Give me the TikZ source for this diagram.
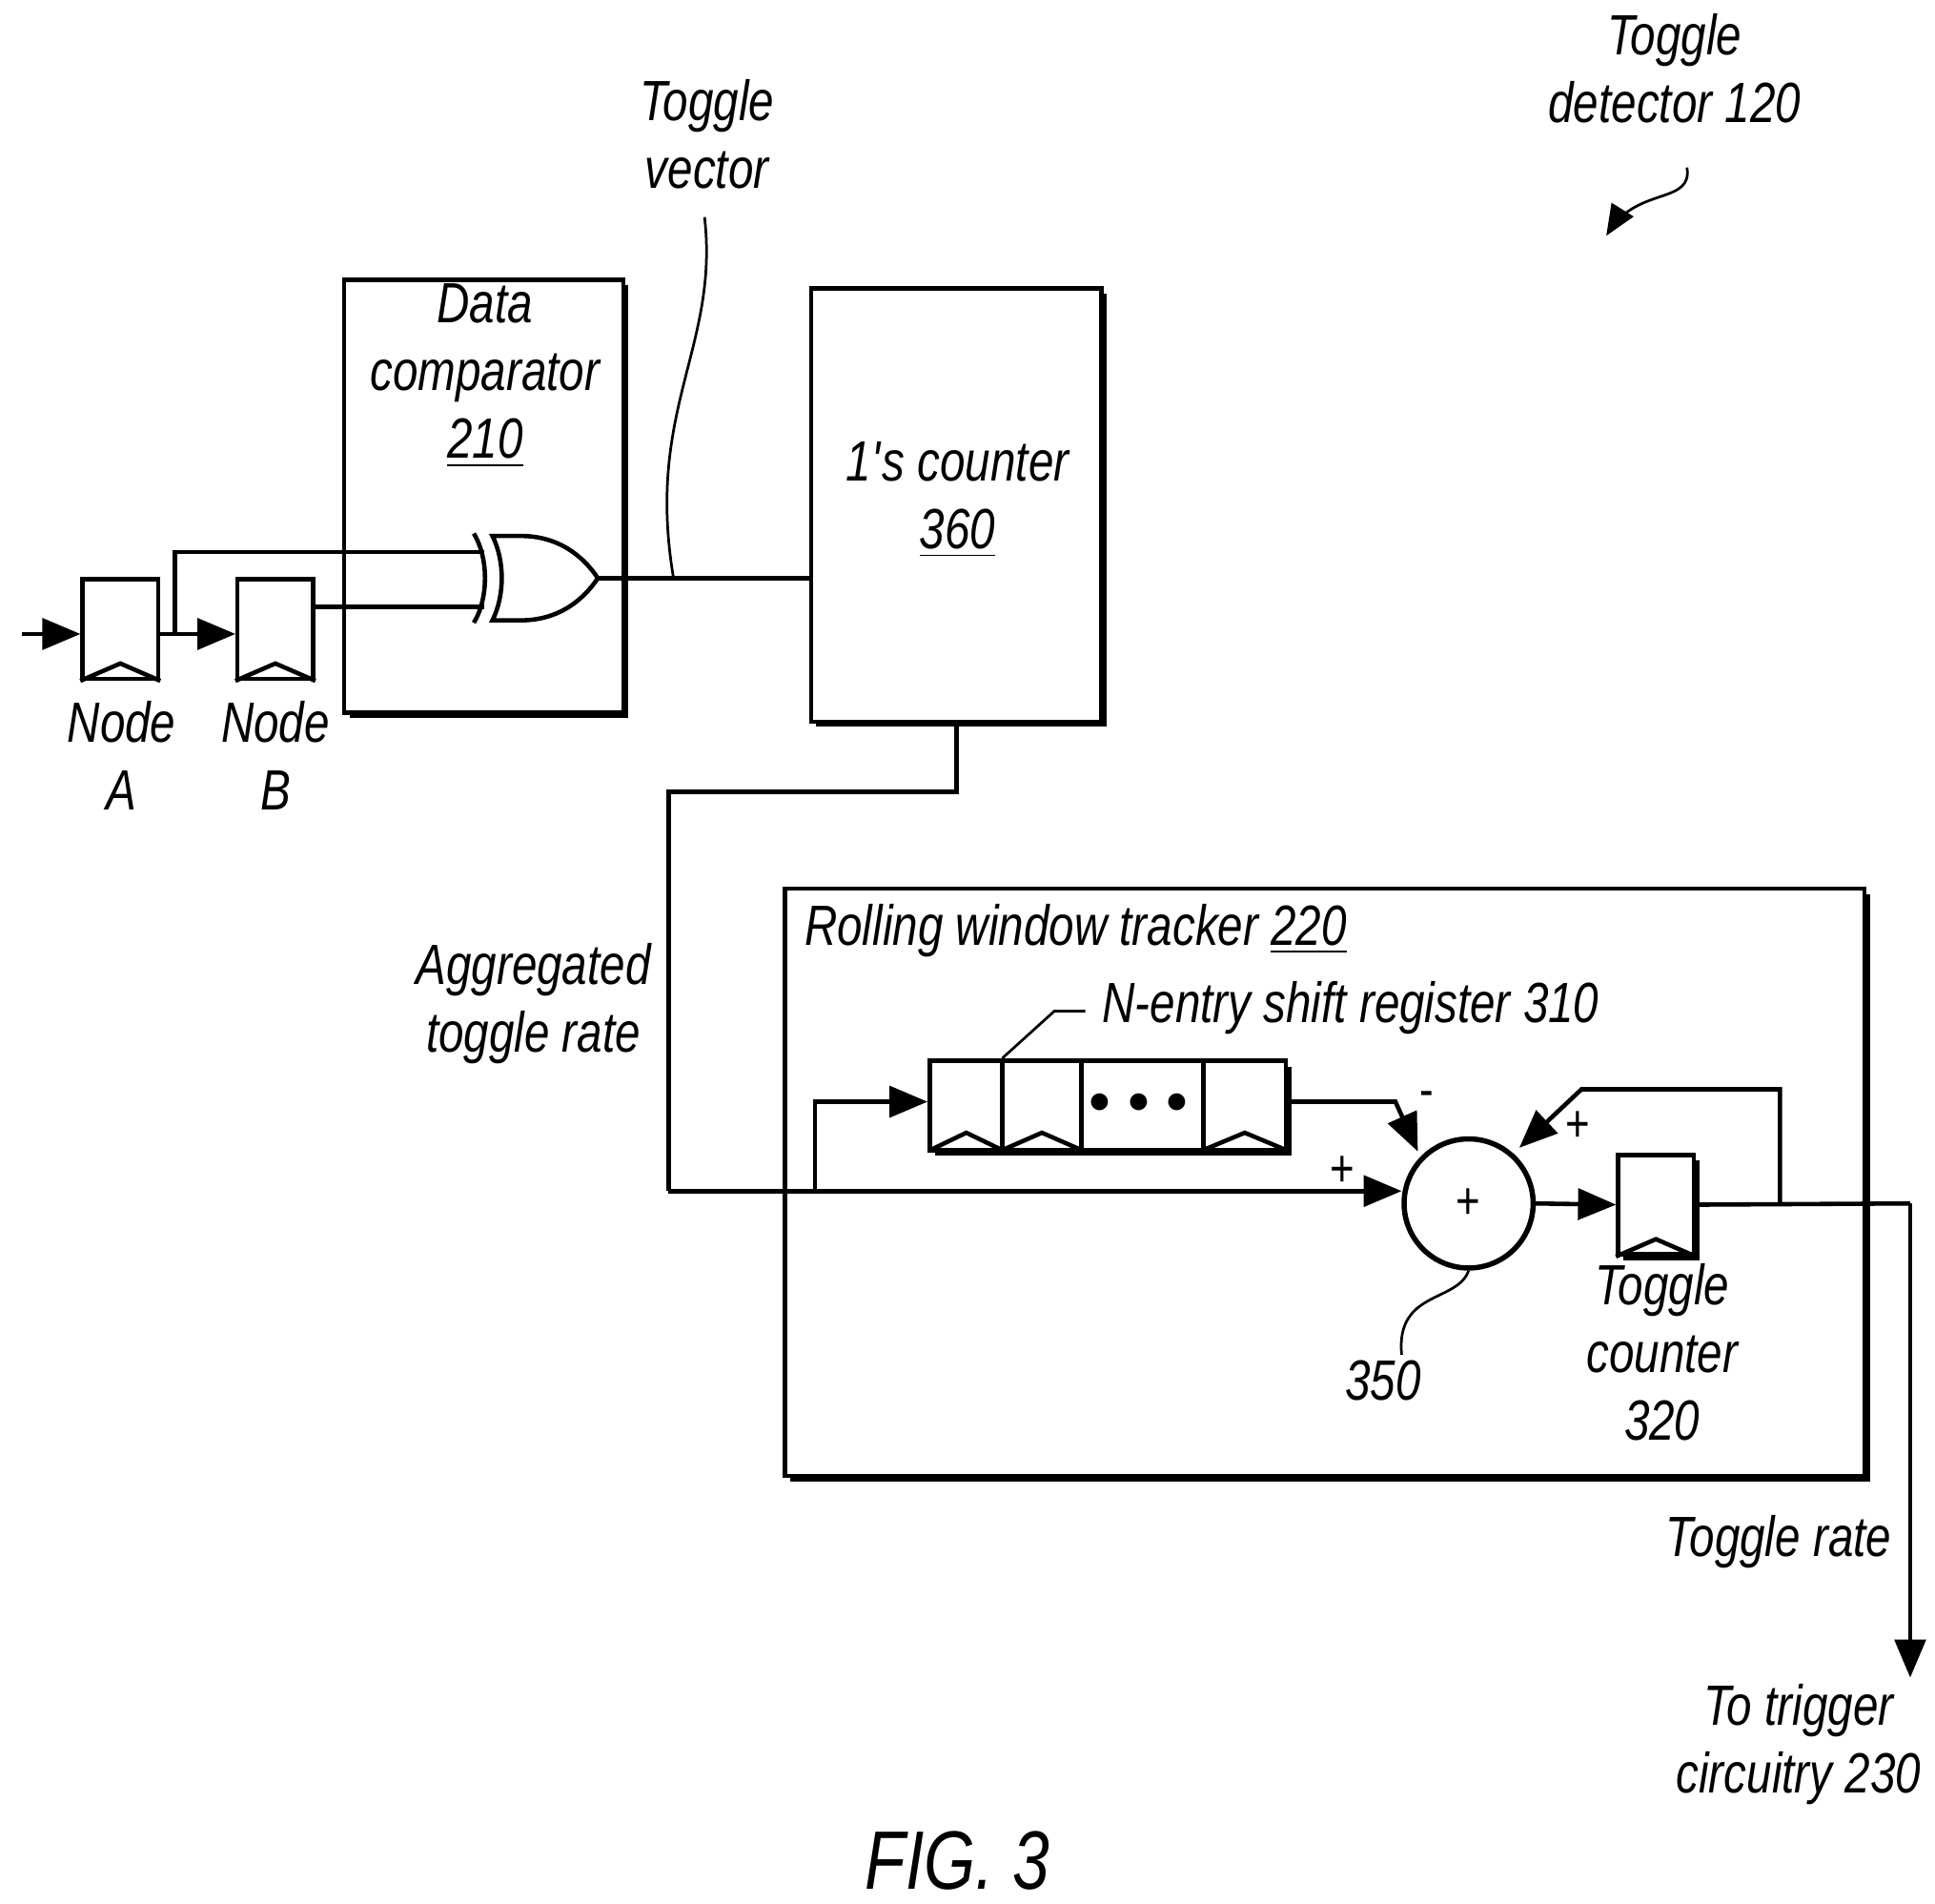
\documentclass[tikz,border=0pt]{standalone}
\usepackage{fontspec}
\setmainfont{Liberation Sans}[FakeStretch=0.8]
\usetikzlibrary{arrows,positioning,calc,shadows}

\tikzset{
    wire/.style={line width=1pt},
    sig/.style={wire,-triangle 45},
    lbl/.style={font=\itshape\fontsize{13}{15.5}\selectfont, align=center, inner sep=0pt},
    block/.style={draw, fill=white, line width=1pt, inner sep=0pt},
    shadowed/.style={block, drop shadow={shadow xshift=1.2pt, shadow yshift=-1.2pt, fill=black, opacity=1}},
    flop/.style={block, minimum width=0.61cm, minimum height=0.8cm},
}
% flip-flop clock mark
\newcommand{\clk}[1]{\draw[wire] (#1.south west) -- ($(#1.south)+(0,-14)$) -- (#1.south east);}

\begin{document}
\begin{tikzpicture}[x=0.01cm, y=-0.01cm]
    \useasboundingbox (0,0) rectangle (1560,1534);

    % Boxes
    \node [shadowed, minimum width=2.25cm, minimum height=3.49cm] (cmp) at (390,400) {};
    \node [shadowed, minimum width=2.34cm, minimum height=3.49cm] (ones) at (771,407) {};
    \node [shadowed, minimum width=8.7cm, minimum height=4.73cm] (rwt) at (1068,953) {};

    % Labels in boxes
    \node [lbl] (cmplbl) at (391,303) {Data\\comparator\\\underline{210}};
    \node [lbl] (oneslbl) at (772,403) {1\textquotesingle s counter\\\underline{360}};
    \node [lbl, anchor=west] (rwtlbl) at (648,750) {Rolling window tracker \underline{220}};

    % Flip-flops
    \node [flop] (ffa) at (97,507) {};
    \node [flop] (ffb) at (222,507) {};
    \clk{ffa} \clk{ffb}
    \node [lbl] (nodea) at (98,609) {Node\\A};
    \node [lbl] (nodeb) at (222,609) {Node\\B};
    \coordinate (in) at (18,511);
    \draw [sig] (in) -- (ffa.west |- in);
    \draw [sig] (ffa.east |- in) -- (ffb.west |- in);

    % XOR gate
    \coordinate (xout) at (482,466);
    \draw [wire] (382,430) .. controls (394,450) and (394,482) .. (382,502);
    \draw [wire, fill=white] (397,432) -- (420,432) .. controls (450,432) and (470,448) .. (xout)
        .. controls (470,484) and (450,500) .. (420,500) -- (397,500)
        .. controls (407,480) and (407,452) .. cycle;
    \coordinate (xa) at (390,445);
    \coordinate (xb) at (390,489);
    \draw [wire] (141,511) |- (xa);
    \draw [wire] (ffb.east |- xb) -- (xb);
    \draw [wire] (xout) -- (ones.west |- xout);

    % Toggle vector
    \node [lbl] (tv) at (570,108) {Toggle\\vector};
    \draw [line width=0.6pt] (568,175) .. controls (580,280) and (520,330) .. (543,466);

    % Shift register
    \node [block, minimum width=2.87cm, minimum height=0.72cm, drop shadow={shadow xshift=1.3pt, shadow yshift=-1.3pt, fill=black, opacity=1}] (sr) at (893,891) {};
    \foreach \x in {808,872,970} \draw [wire] (\x,855) -- (\x,927);
    \foreach \a/\b in {750/808,808/872,970/1037}
        \draw [wire] (\a,927) -- ({(\a+\b)/2},913) -- (\b,927);
    \node [font=\normalsize] (dots) at (918,889) {$\bullet\,\bullet\,\bullet$};
    \node [lbl, anchor=west] (srlbl) at (888,812) {N-entry shift register 310};
    \draw [line width=0.6pt] (808,853) -- (850,815) -- (875,815);

    % Adder
    \node [draw, circle, line width=1.2pt, fill=white, minimum size=1.04cm] (sum) at (1184,970) {};
    \node [font=\large] (sumplus) at (sum) {+};
    \node [lbl] (sumlbl) at (1115,1113) {350};
    \draw [line width=0.6pt] (sum.south) .. controls (1175,1050) and (1125,1040) .. (1130,1092);

    % Toggle counter
    \node [flop, drop shadow={shadow xshift=1.3pt, shadow yshift=-1.3pt, fill=black, opacity=1}] (tc) at (1335,971) {};
    \clk{tc}
    \node [lbl] (tclbl) at (1340,1090) {Toggle\\counter\\320};

    % Paths
    \draw [wire] (ones.south) -- (771,638) -- (539,638) -- (539,960);
    \draw [sig] (539,960) -- (sum.west |- 0,960);
    \draw [sig] (657,960) |- (sr.west |- 0,888);
    \draw [sig] (1040,888) -- (1125,888) -- (1143,928);
    \draw [sig] (sum.east) -- (tc.west);
    \draw [sig] (1435,970) |- (1275,878) -- (1225,925);
    \draw [wire] (tc.east) -- (1540,970);
    \draw [sig] (1540,970) -- (1540,1352);

    \node [font=\large] (minus) at (1150,886) {-};
    \node [font=\large] (pa) at (1082,944) {+};
    \node [font=\large] (pb) at (1272,908) {+};

    % Other labels
    \node [lbl] (agg) at (430,809) {Aggregated\\toggle rate};
    \node [lbl] (tr) at (1434,1243) {Toggle rate};
    \node [lbl] (trig) at (1450,1406) {To trigger\\circuitry 230};
    \node [lbl] (td) at (1350,55) {Toggle\\detector 120};
    \draw [line width=0.6pt, -triangle 45] (1360,135) .. controls (1365,165) and (1320,150) .. (1295,190);
    \node [font=\itshape\fontsize{19}{22}\selectfont] (fig) at (772,1500) {FIG. 3};
\end{tikzpicture}
\end{document}
